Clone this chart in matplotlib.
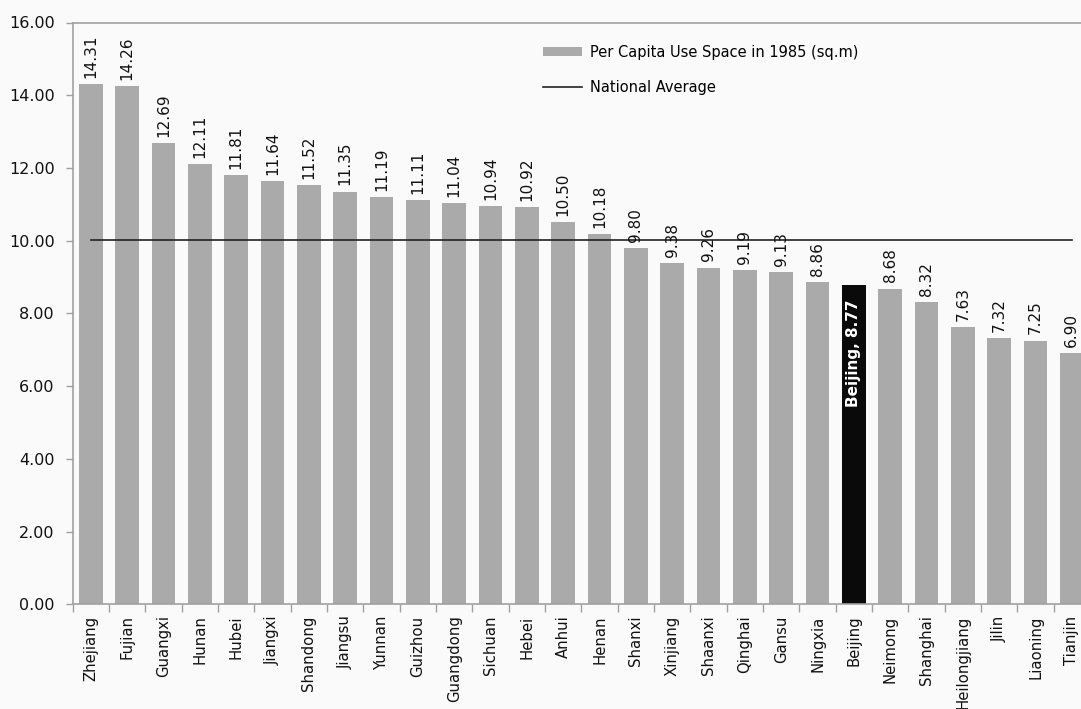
import matplotlib
matplotlib.use("Agg")
import matplotlib.pyplot as plt
import numpy as np

provinces = ["Zhejiang", "Fujian", "Guangxi", "Hunan", "Hubei", "Jiangxi", "Shandong",
             "Jiangsu", "Yunnan", "Guizhou", "Guangdong", "Sichuan", "Hebei", "Anhui",
             "Henan", "Shanxi", "Xinjiang", "Shaanxi", "Qinghai", "Gansu", "Ningxia",
             "Beijing", "Neimong", "Shanghai", "Heilongjiang", "Jilin", "Liaoning", "Tianjin"]
space_1985 = [14.31, 14.26, 12.69, 12.11, 11.81, 11.64, 11.52, 11.35, 11.19, 11.11,
              11.04, 10.94, 10.92, 10.50, 10.18, 9.80, 9.38, 9.26, 9.19, 9.13, 8.86,
              8.77, 8.68, 8.32, 7.63, 7.32, 7.25, 6.90]
national_average = 10.02
highlight = "Beijing"
y_ticks = [0, 2, 4, 6, 8, 10, 12, 14, 16]

plt.rcParams["font.family"] = ["DejaVu Sans"]
bg = "#fafafa"
bar_grey = "#aaaaaa"
axis_grey = "#a0a0a0"

fig = plt.figure(figsize=(10.81, 7.09), dpi=100, facecolor=bg)
W, H = 1081, 709
left, right, top, bottom = 72.7, 1090.0, 22.5, 604.3
ax = fig.add_axes([left / W, 1 - bottom / H, (right - left) / W, (bottom - top) / H])
ax.set_facecolor(bg)

x = np.arange(len(provinces))
colors = ["#0a0a0a" if p == highlight else bar_grey for p in provinces]
bars = ax.bar(x, space_1985, width=0.65, color=colors, zorder=2,
              label="Per Capita Use Space in 1985 (sq.m)")
line, = ax.plot(x, [national_average] * len(x), color="#222222", lw=1.2, zorder=3,
                label="National Average")

for xi, v, p in zip(x, space_1985, provinces):
    if p == highlight:
        ax.text(xi, v - 0.4, f"{p}, {v:.2f}", rotation=90, ha="center", va="top",
                color="white", fontweight="bold", fontsize=11, zorder=4)
    else:
        ax.text(xi, v + 0.17, f"{v:.2f}", rotation=90, ha="center", va="bottom",
                color="#111111", fontsize=11, zorder=4)

ax.set_xlim(-0.5, len(x) - 0.5)
ax.set_ylim(0, 16)
ax.set_yticks(y_ticks)
ax.set_yticklabels([f"{t:.2f}" for t in y_ticks], fontsize=11.5, color="#111111")
ax.set_xticks(x)
ax.set_xticklabels(provinces, rotation=90, fontsize=10.7, color="#111111")
ax.set_xticks(np.arange(len(x) + 1) - 0.5, minor=True)
ax.tick_params(axis="x", which="major", length=0, pad=8)
ax.tick_params(axis="x", which="minor", length=6, color=axis_grey, width=1)
ax.tick_params(axis="y", length=5, color=axis_grey, width=1, pad=8)

for s in ax.spines.values():
    s.set_color(axis_grey)
    s.set_linewidth(1.2)

leg = ax.legend(handles=[bars, line], loc="upper left",
                bbox_to_anchor=((543 - left) / (right - left), 1 - (45 - top) / (bottom - top)),
                frameon=False, fontsize=10.5, handlelength=2.7, handleheight=0.6,
                handletextpad=0.5, labelspacing=1.35, borderaxespad=0, borderpad=0)

fig.savefig("out.png", dpi=100, facecolor=bg)
